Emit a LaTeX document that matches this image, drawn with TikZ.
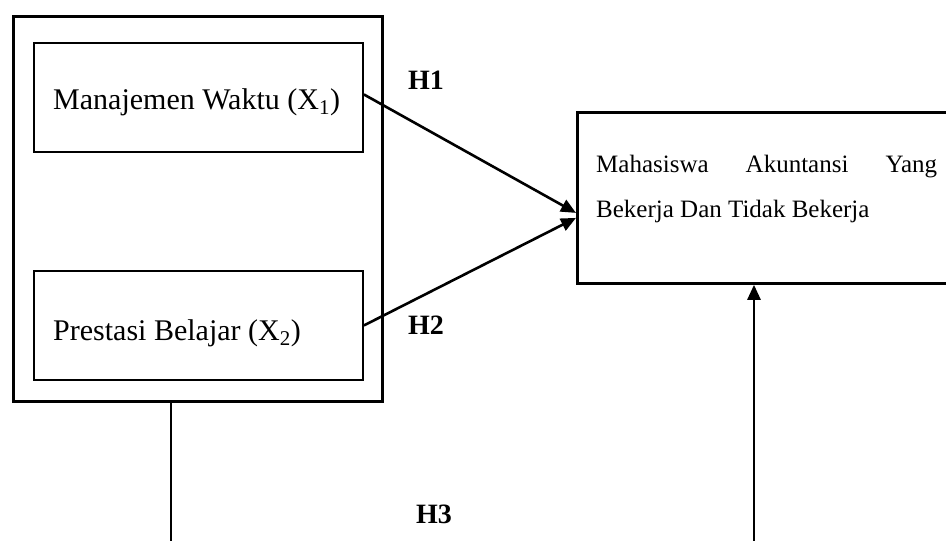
\documentclass[tikz,border=0pt]{standalone}
\usepackage{fontspec}
\setmainfont{Liberation Serif}
\usetikzlibrary{arrows.meta,calc}
\begin{document}
\begin{tikzpicture}[x=1pt,y=-1pt,
  boxa/.style={draw, line width=2.8pt, inner sep=0pt, anchor=north west},
  boxb/.style={draw, line width=1.9pt, inner sep=0pt, anchor=north west},
  txt/.style={anchor=base west, inner sep=0pt, font=\fontsize{30}{36}\selectfont},
  rtxt/.style={anchor=base west, inner sep=0pt, font=\fontsize{25}{30}\selectfont},
  hlab/.style={inner sep=0pt, font=\fontsize{28}{32}\selectfont\bfseries},
  conn/.style={line width=2.6pt},
  arr/.style={conn, -{Triangle[length=15pt,width=13pt]}}]
\clip (0,0) rectangle (946,541);
\fill[white] (0,0) rectangle (946,541);
\node[boxa, minimum width=369pt, minimum height=385pt] (outer) at (12,15) {};
\node[boxb, minimum width=329pt, minimum height=109pt] (m1) at (33,42) {};
\node[boxb, minimum width=329pt, minimum height=109pt] (m2) at (33,270) {};
\node[boxa, minimum width=380pt, minimum height=171pt] (y) at (576,111) {};
\node[txt] (t1) at (53,109) {Manajemen Waktu (X\textsubscript{1})};
\node[txt] (t2) at (53,340) {Prestasi Belajar (X\textsubscript{2})};
\node[rtxt] (r1) at (596,172) {\makebox[341pt]{Mahasiswa\hfill Akuntansi\hfill Yang}};
\node[rtxt] (r2) at (596,217) {Bekerja Dan Tidak Bekerja};
\node[hlab] (h1) at (426,80) {H1};
\node[hlab] (h2) at (426,325) {H2};
\node[hlab] (h3) at (434,514) {H3};
\coordinate (e1) at ($(y.west)+(0,15)$);
\coordinate (e2) at ($(y.west)+(0,20)$);
\draw[arr] ($(m1.east)+(0,-3)$) -- (e1);
\draw[arr] (m2.east) -- (e2);
\coordinate (d1) at (171,541);
\draw[conn] (d1 |- outer.south) -- (d1);
\coordinate (u1) at (754,541);
\draw[arr] (u1) -- (u1 |- y.south);
\end{tikzpicture}
\end{document}
